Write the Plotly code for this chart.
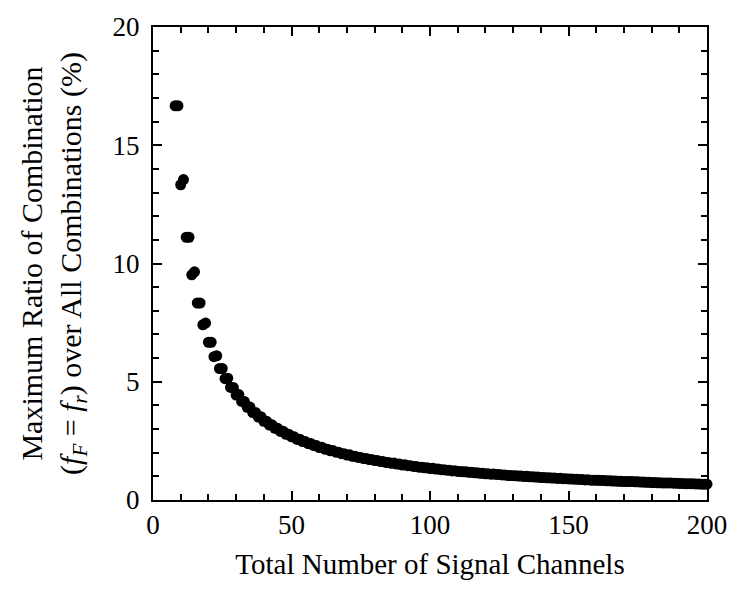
import plotly.graph_objects as go

channels = list(range(8, 201))
ratio_pct = [
    16.67, 16.67, 13.33, 13.55, 11.11, 11.11, 9.52, 9.65, 8.33, 8.33,
    7.41, 7.48, 6.67, 6.67, 6.06, 6.10, 5.56, 5.56, 5.13, 5.15,
    4.76, 4.76, 4.44, 4.46, 4.17, 4.17, 3.92, 3.93, 3.70, 3.70,
    3.51, 3.52, 3.33, 3.33, 3.17, 3.18, 3.03, 3.03, 2.90, 2.91,
    2.78, 2.78, 2.67, 2.67, 2.56, 2.57, 2.47, 2.47, 2.38, 2.39,
    2.30, 2.30, 2.22, 2.23, 2.15, 2.15, 2.08, 2.09, 2.02, 2.02,
    1.96, 1.96, 1.90, 1.91, 1.85, 1.85, 1.80, 1.80, 1.75, 1.76,
    1.71, 1.71, 1.67, 1.67, 1.63, 1.63, 1.59, 1.59, 1.55, 1.56,
    1.52, 1.52, 1.48, 1.49, 1.45, 1.45, 1.42, 1.42, 1.39, 1.39,
    1.36, 1.36, 1.33, 1.34, 1.31, 1.31, 1.28, 1.28, 1.26, 1.26,
    1.23, 1.24, 1.21, 1.21, 1.19, 1.19, 1.17, 1.17, 1.15, 1.15,
    1.13, 1.13, 1.11, 1.11, 1.09, 1.10, 1.08, 1.08, 1.06, 1.06,
    1.04, 1.04, 1.03, 1.03, 1.01, 1.01, 0.99, 1.00, 0.98, 0.98,
    0.97, 0.97, 0.95, 0.95, 0.94, 0.94, 0.93, 0.93, 0.91, 0.92,
    0.90, 0.90, 0.89, 0.89, 0.88, 0.88, 0.87, 0.87, 0.85, 0.86,
    0.84, 0.84, 0.83, 0.83, 0.82, 0.82, 0.81, 0.81, 0.80, 0.80,
    0.79, 0.79, 0.78, 0.78, 0.78, 0.78, 0.77, 0.77, 0.76, 0.76,
    0.75, 0.75, 0.74, 0.74, 0.73, 0.73, 0.72, 0.72, 0.72, 0.72,
    0.71, 0.71, 0.70, 0.70, 0.69, 0.69, 0.69, 0.69, 0.68, 0.68,
    0.67, 0.67, 0.67,
]

x_title = "Total Number of Signal Channels"
y_title = ("Maximum Ratio of Combination<br>"
           "(<i>f</i><sub><i>F</i></sub> = <i>f</i><sub><i>r</i></sub>) over All Combinations (%)")

FONT = "Liberation Serif, Times New Roman, serif"

fig = go.Figure()
fig.add_trace(go.Scatter(
    x=channels, y=ratio_pct, mode="markers",
    marker=dict(color="black", size=11, line=dict(width=0)),
    cliponaxis=False, showlegend=False,
))

axis_common = dict(
    showline=True, linecolor="black", linewidth=2, mirror="ticks",
    ticks="inside", ticklen=9, tickwidth=2, tickcolor="black",
    showgrid=False, zeroline=False,
    tickfont=dict(family=FONT, size=27, color="black"),
)

fig.update_xaxes(
    range=[0, 200], dtick=50, tick0=0,
    minor=dict(dtick=10, ticks="inside", ticklen=6, tickwidth=2, tickcolor="black"),
    title=dict(text=x_title, font=dict(family=FONT, size=29, color="black"), standoff=14),
    **axis_common,
)
fig.update_yaxes(
    range=[0, 20], dtick=5, tick0=0,
    minor=dict(dtick=1, ticks="inside", ticklen=6, tickwidth=2, tickcolor="black"),
    title=dict(text=y_title, font=dict(family=FONT, size=30, color="black"), standoff=22),
    ticklabelstandoff=6,
    **axis_common,
)

fig.update_layout(
    width=739, height=589,
    margin=dict(l=153, r=21, t=24, b=89),
    plot_bgcolor="white", paper_bgcolor="white",
    font=dict(family=FONT, color="black"),
)

fig.write_html("out.html")
